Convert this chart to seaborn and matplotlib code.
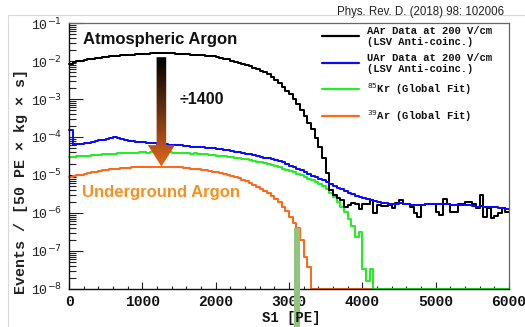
import numpy as np
import matplotlib
matplotlib.use("Agg")
import matplotlib.pyplot as plt
import seaborn as sns
from matplotlib.lines import Line2D
from matplotlib.patches import Polygon, Rectangle
from matplotlib.colors import LinearSegmentedColormap
from matplotlib.transforms import blended_transform_factory
from matplotlib.ticker import MultipleLocator, LogLocator, FuncFormatter, NullFormatter

# ---------------------------------------------------------------- data
# S1 histograms, 50 PE bins from 0 to 6000 PE, stored as log10(events / [50 PE x kg x s]).
# Empty bins are kept at the frame floor (1e-8).
s1_edges = np.arange(0, 6001, 50)

aar_log10 = [
    -2.08, -2.03, -2.01, -1.99, -1.97, -1.96, -1.94, -1.93, -1.91, -1.90,
    -1.89, -1.88, -1.87, -1.86, -1.85, -1.84, -1.83, -1.83, -1.82, -1.82,
    -1.81, -1.81, -1.80, -1.80, -1.80, -1.80, -1.80, -1.80, -1.80, -1.81,
    -1.81, -1.82, -1.82, -1.83, -1.83, -1.84, -1.85, -1.86, -1.87, -1.88,
    -1.90, -1.92, -1.94, -1.96, -1.99, -2.02, -2.05, -2.08, -2.11, -2.14,
    -2.18, -2.22, -2.26, -2.30, -2.35, -2.42, -2.50, -2.58, -2.68, -2.78,
    -2.88, -3.00, -3.14, -3.29, -3.45, -3.62, -3.80, -4.02, -4.26, -4.55,
    -4.95, -5.40, -5.53, -5.61, -5.66, -5.84, -5.79, -5.74, -5.76, -5.89,
    -5.76, -5.76, -5.66, -6.00, -5.79, -5.82, -5.82, -5.79, -5.87, -5.74,
    -5.66, -5.76, -5.76, -5.84, -6.00, -6.10, -5.79, -5.77, -5.76, -5.77,
    -5.97, -6.05, -5.63, -5.76, -5.97, -5.97, -5.76, -5.76, -5.71, -5.71,
    -5.76, -5.87, -5.53, -6.10, -5.88, -6.13, -6.08, -6.00, -5.87, -5.97,
]

uar_log10 = [
    -3.82, -4.20, -4.19, -4.18, -4.16, -4.15, -4.13, -4.11, -4.09, -4.07,
    -4.05, -4.02, -4.00, -4.03, -4.06, -4.08, -4.10, -4.11, -4.12, -4.13,
    -4.14, -4.15, -4.16, -4.17, -4.18, -4.18, -4.19, -4.20, -4.21, -4.22,
    -4.22, -4.23, -4.24, -4.25, -4.25, -4.26, -4.27, -4.28, -4.29, -4.30,
    -4.31, -4.32, -4.33, -4.35, -4.37, -4.39, -4.40, -4.42, -4.44, -4.46,
    -4.48, -4.50, -4.52, -4.54, -4.56, -4.58, -4.61, -4.64, -4.67, -4.71,
    -4.75, -4.79, -4.84, -4.88, -4.93, -4.97, -5.02, -5.06, -5.10, -5.14,
    -5.18, -5.23, -5.28, -5.33, -5.38, -5.42, -5.47, -5.51, -5.55, -5.58,
    -5.61, -5.64, -5.66, -5.69, -5.71, -5.73, -5.74, -5.75, -5.76, -5.75,
    -5.74, -5.76, -5.77, -5.78, -5.79, -5.78, -5.78, -5.77, -5.76, -5.77,
    -5.76, -5.76, -5.77, -5.76, -5.78, -5.79, -5.78, -5.79, -5.80, -5.80,
    -5.82, -5.83, -5.82, -5.84, -5.84, -5.85, -5.85, -5.86, -5.86, -5.90,
]

kr85_log10 = [
    -4.53, -4.52, -4.51, -4.51, -4.50, -4.49, -4.48, -4.48, -4.47, -4.46,
    -4.45, -4.45, -4.44, -4.43, -4.43, -4.42, -4.42, -4.41, -4.41, -4.40,
    -4.40, -4.41, -4.40, -4.39, -4.40, -4.39, -4.41, -4.40, -4.41, -4.42,
    -4.41, -4.43, -4.42, -4.44, -4.43, -4.45, -4.45, -4.46, -4.47, -4.48,
    -4.49, -4.50, -4.51, -4.52, -4.53, -4.55, -4.56, -4.58, -4.59, -4.61,
    -4.63, -4.65, -4.67, -4.69, -4.72, -4.74, -4.77, -4.80, -4.83, -4.86,
    -4.90, -4.93, -4.97, -5.01, -5.05, -5.10, -5.14, -5.19, -5.24, -5.29,
    -5.38, -5.48, -5.58, -5.70, -5.83, -5.97, -6.15, -6.35, -6.63, -6.50,
    -7.47, -7.79, -7.47, -8.00, -8.00, -8.00, -8.00, -8.00, -8.00, -8.00,
    -8.00, -8.00, -8.00, -8.00, -8.00, -8.00, -8.00, -8.00, -8.00, -8.00,
    -8.00, -8.00, -8.00, -8.00, -8.00, -8.00, -8.00, -8.00, -8.00, -8.00,
    -8.00, -8.00, -8.00, -8.00, -8.00, -8.00, -8.00, -8.00, -8.00, -8.00,
]

ar39_log10 = [
    -5.05, -5.03, -5.01, -4.99, -4.97, -4.95, -4.93, -4.91, -4.89, -4.88,
    -4.86, -4.85, -4.84, -4.83, -4.82, -4.81, -4.81, -4.80, -4.80, -4.79,
    -4.79, -4.79, -4.79, -4.78, -4.78, -4.78, -4.79, -4.79, -4.79, -4.80,
    -4.80, -4.81, -4.82, -4.83, -4.84, -4.85, -4.86, -4.88, -4.89, -4.91,
    -4.93, -4.95, -4.97, -5.00, -5.03, -5.06, -5.09, -5.13, -5.17, -5.21,
    -5.26, -5.31, -5.36, -5.42, -5.48, -5.55, -5.62, -5.72, -5.83, -5.95,
    -6.10, -6.26, -6.39, -6.71, -7.16, -7.42, -8.00, -8.00, -8.00, -8.00,
    -8.00, -8.00, -8.00, -8.00, -8.00, -8.00, -8.00, -8.00, -8.00, -8.00,
    -8.00, -8.00, -8.00, -8.00, -8.00, -8.00, -8.00, -8.00, -8.00, -8.00,
    -8.00, -8.00, -8.00, -8.00, -8.00, -8.00, -8.00, -8.00, -8.00, -8.00,
    -8.00, -8.00, -8.00, -8.00, -8.00, -8.00, -8.00, -8.00, -8.00, -8.00,
    -8.00, -8.00, -8.00, -8.00, -8.00, -8.00, -8.00, -8.00, -8.00, -8.00,
]

series_labels = [
    "AAr Data at 200 V/cm\n(LSV Anti-coinc.)",
    "UAr Data at 200 V/cm\n(LSV Anti-coinc.)",
    "$^{85}$Kr (Global Fit)",
    "$^{39}$Ar (Global Fit)",
]
series_colors = ["#000000", "#0a0aff", "#22ee22", "#ff6a1a"]

# marked S1 value and the AAr -> UAr scaling
marker_s1 = 3110
scale_text = "\u00f71400"
arrow_s1 = 1260
citation = "Phys. Rev. D. (2018) 98: 102006"

# ---------------------------------------------------------------- style
W, H, DPI = 525, 327, 100
sns.set_style("ticks")
plt.rcParams["font.family"] = ["Liberation Mono", "DejaVu Sans"]
plt.rcParams["mathtext.fontset"] = "dejavusans"

fig = plt.figure(figsize=(W / DPI, H / DPI), dpi=DPI)
fig.patch.set_facecolor("white")
ax = fig.add_axes([69 / W, 1 - 289 / H, (509 - 69) / W, (289 - 23) / H])
ax.set_yscale("log")

def px_to_fig(x, y):
    return x / W, 1 - y / H

# histograms drawn as step outlines, bottom to top
draw_order = [3, 2, 0, 1]
all_series = [aar_log10, uar_log10, kr85_log10, ar39_log10]
for i in draw_order:
    vals = np.asarray(all_series[i])
    y = 10.0 ** np.append(vals, vals[-1])
    sns.lineplot(x=s1_edges, y=y, ax=ax, color=series_colors[i], lw=1.45,
                 drawstyle="steps-post", estimator=None, sort=False,
                 clip_on=False, legend=False)

ax.set_xlim(0, 6000)
ax.set_ylim(1e-8, 1e-1)
ax.set_xlabel("")
ax.set_ylabel("")

# axes frame and ticks
for side in ["left", "bottom"]:
    ax.spines[side].set_color("#111111")
    ax.spines[side].set_linewidth(1.0)
for side in ["top", "right"]:
    ax.spines[side].set_color("#666666")
    ax.spines[side].set_linewidth(0.9)

ax.xaxis.set_major_locator(MultipleLocator(1000))
ax.xaxis.set_minor_locator(MultipleLocator(200))
ax.yaxis.set_major_locator(LogLocator(base=10, numticks=20))
ax.yaxis.set_minor_locator(LogLocator(base=10, subs=np.arange(2, 10), numticks=20))
ax.yaxis.set_minor_formatter(NullFormatter())
ax.yaxis.set_major_formatter(FuncFormatter(lambda v, p: "10$^{%d}$" % round(np.log10(v))))
ax.xaxis.set_major_formatter(FuncFormatter(lambda v, p: "%d" % v))

ax.tick_params(axis="x", which="major", direction="in", length=5, width=0.8,
               color="#222222", pad=4, labelsize=10.5)
ax.tick_params(axis="x", which="minor", direction="in", length=2.5, width=0.8,
               color="#222222")
ax.tick_params(axis="y", which="major", direction="in", length=10, width=0.8,
               color="#222222", pad=5, labelsize=9.5)
ax.tick_params(axis="y", which="minor", direction="in", length=5, width=0.8,
               color="#222222")
for lab in ax.get_xticklabels():
    lab.set_fontweight("bold")
    lab.set_color("#111111")
for lab in ax.get_yticklabels():
    lab.set_color("#222222")

# axis titles
fig.text(*px_to_fig(291, 318), "S1 [PE]", ha="center", va="center",
         fontsize=10, fontweight="bold", color="#111111")
fig.text(*px_to_fig(21, 182), "Events / [50 PE \u00d7 kg \u00d7 s]", ha="center",
         va="center", rotation=90, fontsize=10.8, fontweight="bold", color="#222222")

# legend
leg_rows = [36, 63, 89, 116]
for lab, col, yr in zip(series_labels, series_colors, leg_rows):
    x0, y0 = px_to_fig(322, yr)
    x1, _ = px_to_fig(359, yr)
    fig.add_artist(Line2D([x0, x1], [y0, y0], color=col, lw=1.6))
    fig.text(*px_to_fig(367, yr + 0.5), lab, ha="left", va="center", fontsize=7.6,
             fontweight="bold", linespacing=1.05, color="#111111")

# annotations
fig.text(*px_to_fig(83, 44), "Atmospheric Argon", ha="left", va="baseline",
         family="Liberation Sans", fontweight="bold", fontsize=12, color="#111111")
fig.text(*px_to_fig(82, 197), "Underground Argon", ha="left", va="baseline",
         family="Liberation Sans", fontweight="bold", fontsize=12, color="#f7901e")
fig.text(*px_to_fig(180, 104), scale_text, ha="left", va="baseline",
         family="Liberation Sans", fontweight="bold", fontsize=11.5, color="#111111")

# gradient arrow from the AAr plateau to the UAr (39Ar) plateau
fig.canvas.draw()
top_px = ax.transData.transform((arrow_s1, 10 ** -1.90))
tip_px = ax.transData.transform((arrow_s1, 10 ** max(ar39_log10)))
ov = fig.add_axes([0, 0, 1, 1], zorder=5)
ov.set_xlim(0, W)
ov.set_ylim(0, H)
ov.axis("off")
cx, ytop, ytip = top_px[0], top_px[1], tip_px[1]
shaft_hw, head_hw, head_len = 4.8, 13.5, 21.5
verts = [
    (cx - shaft_hw, ytop), (cx + shaft_hw, ytop),
    (cx + shaft_hw, ytip + head_len), (cx + head_hw, ytip + head_len),
    (cx, ytip), (cx - head_hw, ytip + head_len),
    (cx - shaft_hw, ytip + head_len),
]
arrow_poly = Polygon(verts, closed=True, facecolor="none", edgecolor="none",
                     transform=ov.transData)
ov.add_patch(arrow_poly)
grad_cmap = LinearSegmentedColormap.from_list("aar_to_uar", ["#000000", "#6b3210", "#e8671d"])
img = ov.imshow(np.linspace(0, 1, 256).reshape(-1, 1), cmap=grad_cmap, aspect="auto",
                origin="upper", extent=(cx - head_hw, cx + head_hw, ytip, ytop),
                interpolation="bilinear")
img.set_clip_path(arrow_poly)

# marker band at the chosen S1 value, running past the axis
band_tr = blended_transform_factory(ax.transData, ax.transAxes)
band = Rectangle((marker_s1 - 38, -0.3), 76, 0.3 + (289 - 228) / 266,
                 transform=band_tr, clip_on=False, facecolor="#93c47d",
                 edgecolor="none", zorder=20)
ax.add_patch(band)

# outer frame and citation
fig.add_artist(Line2D([8 / W, 1.0], [1 - 15 / H] * 2, color="#dadada", lw=0.8))
fig.add_artist(Line2D([8 / W] * 2, [0.0, 1 - 15 / H], color="#dadada", lw=0.8))
fig.text(*px_to_fig(504, 15), citation, ha="right", va="baseline",
         family="Liberation Sans", fontsize=8.3, color="#222222")

fig.savefig("out.png", dpi=DPI, facecolor="white")
